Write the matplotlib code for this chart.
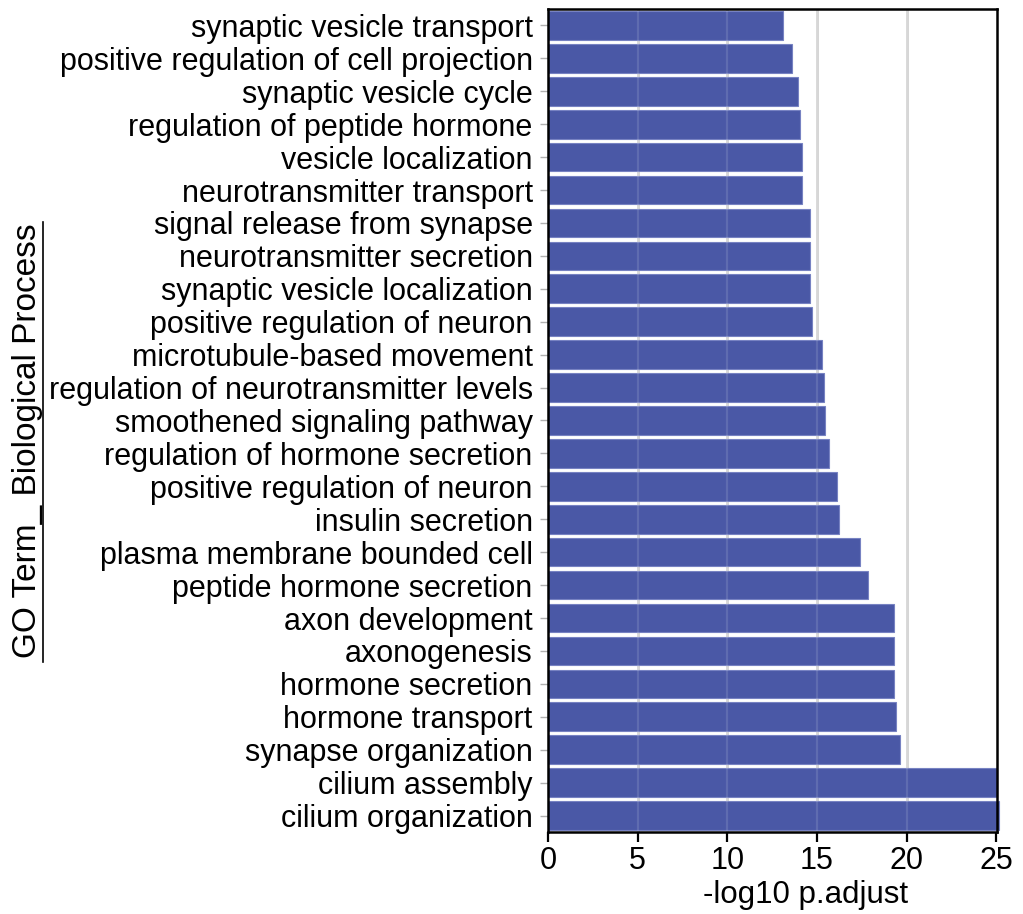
import matplotlib
matplotlib.use("Agg")
import matplotlib.pyplot as plt
from matplotlib.lines import Line2D

plt.rcParams["font.family"] = ["Liberation Sans", "DejaVu Sans"]

# top to bottom as shown in the chart
TERMS = [
    "synaptic vesicle transport",
    "positive regulation of cell projection",
    "synaptic vesicle cycle",
    "regulation of peptide hormone",
    "vesicle localization",
    "neurotransmitter transport",
    "signal release from synapse",
    "neurotransmitter secretion",
    "synaptic vesicle localization",
    "positive regulation of neuron",
    "microtubule-based movement",
    "regulation of neurotransmitter levels",
    "smoothened signaling pathway",
    "regulation of hormone secretion",
    "positive regulation of neuron",
    "insulin secretion",
    "plasma membrane bounded cell",
    "peptide hormone secretion",
    "axon development",
    "axonogenesis",
    "hormone secretion",
    "hormone transport",
    "synapse organization",
    "cilium assembly",
    "cilium organization",
]
NEG_LOG10_PADJ = [
    13.09, 13.63, 13.95, 14.06, 14.17, 14.17, 14.61, 14.61, 14.61, 14.72,
    15.27, 15.38, 15.47, 15.69, 16.12, 16.23, 17.42, 17.87, 19.28, 19.28,
    19.28, 19.39, 19.60, 25.02, 25.14,
]
XTICKS = [0, 5, 10, 15, 20, 25]

BAR_COLOR = "#4a58a6"


def main() -> None:
    fig = plt.figure(figsize=(10.23, 9.14), dpi=100)
    ax = fig.add_axes([0.5357, 0.0897, 0.4386, 0.9005])

    ypos = list(range(len(TERMS)))
    ax.barh(ypos, NEG_LOG10_PADJ, height=0.87, color=BAR_COLOR,
            edgecolor="#7782c2", linewidth=0.8, zorder=2, clip_on=False)

    ax.set_xlim(0, 25.02)
    ax.set_ylim(len(TERMS) - 0.5, -0.5)
    ax.set_yticks(ypos)
    ax.set_yticklabels(TERMS, fontsize=22)
    ax.set_xticks(XTICKS)
    ax.set_xticklabels([str(t) for t in XTICKS], fontsize=22)

    # light vertical grid under the bars, a faint trace over them
    for xv in XTICKS[1:-1]:
        ax.axvline(xv, color="#d2d2d2", lw=2.0, zorder=1)
        ax.axvline(xv, color="white", alpha=0.12, lw=1.6, zorder=3)

    ax.tick_params(axis="y", length=6, width=1.0, color="#b0b0b0", pad=5)
    ax.tick_params(axis="x", length=7, width=1.6, color="black", pad=3)
    for sp in ax.spines.values():
        sp.set_linewidth(1.8)
        sp.set_color("black")
        sp.set_zorder(4)

    fig.text(806 / 1023, 1 - 895 / 914, "-log10 p.adjust", fontsize=22.5,
             ha="center", va="center")

    # underlined, rotated y label
    fig.text(28 / 1023, 1 - 441 / 914, "GO Term_ Biological Process",
             fontsize=24, rotation=90, ha="center", va="center")
    fig.add_artist(Line2D([43 / 1023, 43 / 1023],
                          [1 - 222 / 914, 1 - 662 / 914],
                          transform=fig.transFigure, color="black", lw=1.2))

    fig.savefig("out.png", dpi=100)
    plt.close(fig)


if __name__ == "__main__":
    main()
